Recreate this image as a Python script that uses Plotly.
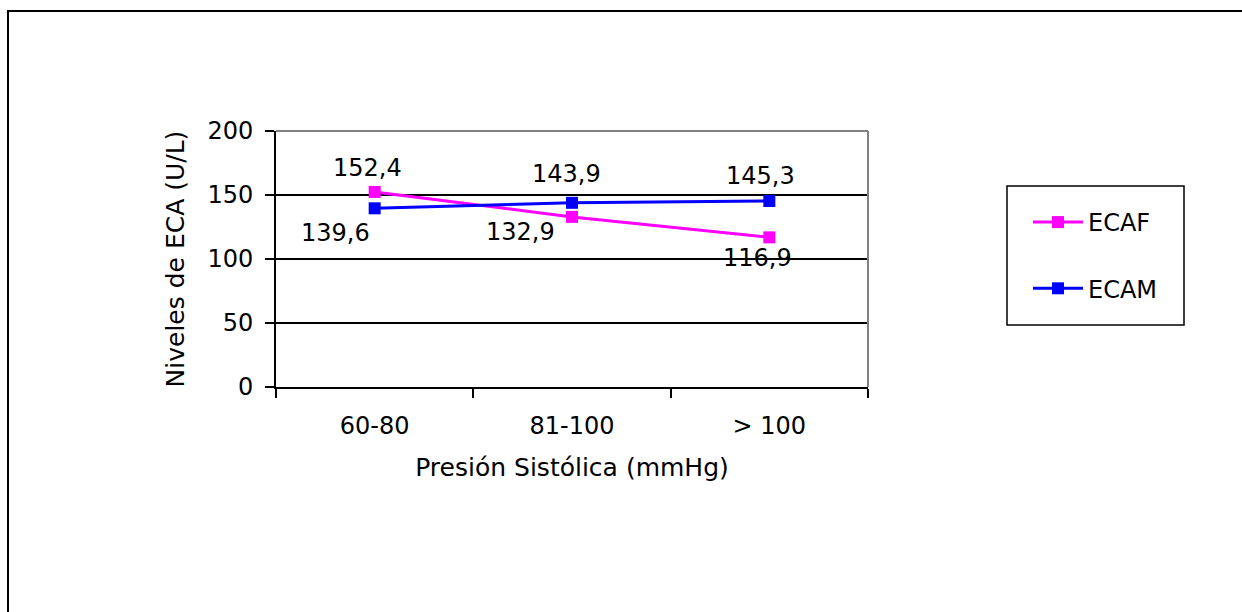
import plotly.graph_objects as go

# Data
categories = ["60-80", "81-100", "> 100"]
ecaf = [152.4, 132.9, 116.9]
ecam = [139.6, 143.9, 145.3]

# Label offsets (px) for each value label: (xshift, yshift)
ecaf_label_shift = [(-7, 24), (-52, -15), (-12, -21)]
ecam_label_shift = [(-39, -25), (-6, 29), (-9, 25)]

FONT = "DejaVu Sans"
W, H = 1242, 612
L, R, T, B = 276, 374, 131, 225
PW, PH = W - L - R, H - T - B


def px_x(x):
    return (x - L) / PW


def px_y(y):
    return (H - B - y) / PH


def fmt(v):
    return f"{v:.1f}".replace(".", ",")


fig = go.Figure()

series = [
    ("ECAF", ecaf, "#FF00FF", ecaf_label_shift, "g1"),
    ("ECAM", ecam, "#0000FF", ecam_label_shift, "g2"),
]

for name, vals, color, shifts, grp in series:
    fig.add_trace(go.Scatter(
        x=categories, y=vals, name=name, mode="lines+markers",
        line=dict(color=color, width=3),
        marker=dict(symbol="square", size=12, color=color),
        legendgroup=grp,
    ))
    for c, v, (dx, dy) in zip(categories, vals, shifts):
        fig.add_annotation(
            x=c, y=v, text=fmt(v), showarrow=False,
            xshift=dx, yshift=dy,
            font=dict(family=FONT, size=24, color="black"),
        )

shapes = [
    # outer chart frame
    dict(type="rect", xref="paper", yref="paper",
         x0=px_x(8), x1=px_x(1260), y0=px_y(630), y1=px_y(11),
         line=dict(color="black", width=2)),
    # plot area border (top & right)
    dict(type="line", xref="paper", yref="paper", x0=0, x1=1, y0=1, y1=1,
         line=dict(color="#808080", width=2)),
    dict(type="line", xref="paper", yref="paper", x0=1, x1=1, y0=0, y1=1,
         line=dict(color="#808080", width=2)),
    # legend box
    dict(type="rect", xref="paper", yref="paper",
         x0=px_x(1007), x1=px_x(1184), y0=px_y(325), y1=px_y(186),
         line=dict(color="black", width=1.5)),
]

fig.update_layout(
    width=W, height=H,
    margin=dict(l=L, r=R, t=T, b=B, pad=0),
    paper_bgcolor="white", plot_bgcolor="white",
    font=dict(family=FONT, size=24, color="black"),
    shapes=shapes,
    showlegend=True,
    legend=dict(
        x=px_x(1028), y=px_y(200), xanchor="left", yanchor="top",
        bgcolor="rgba(0,0,0,0)", borderwidth=0,
        font=dict(family=FONT, size=24, color="black"),
        tracegroupgap=32, itemwidth=50,
    ),
    xaxis=dict(
        type="category", range=[-0.5, 2.5], tickson="boundaries",
        ticks="outside", ticklen=9, tickwidth=1.5, tickcolor="black",
        showline=True, linecolor="black", linewidth=2,
        showgrid=False, zeroline=False,
        ticklabelstandoff=16,
        tickfont=dict(family=FONT, size=24),
        title=dict(text="Presión Sistólica (mmHg)", standoff=20,
                   font=dict(family=FONT, size=25)),
    ),
    yaxis=dict(
        range=[0, 200], dtick=50,
        ticks="outside", ticklen=9, tickwidth=1.5, tickcolor="black",
        showline=True, linecolor="black", linewidth=2,
        showgrid=True, gridcolor="black", gridwidth=1.5, zeroline=False,
        ticklabelstandoff=7,
        tickfont=dict(family=FONT, size=24),
        title=dict(text="Niveles de ECA (U/L)", standoff=16,
                   font=dict(family=FONT, size=25)),
    ),
)

fig.write_html("out.html")
